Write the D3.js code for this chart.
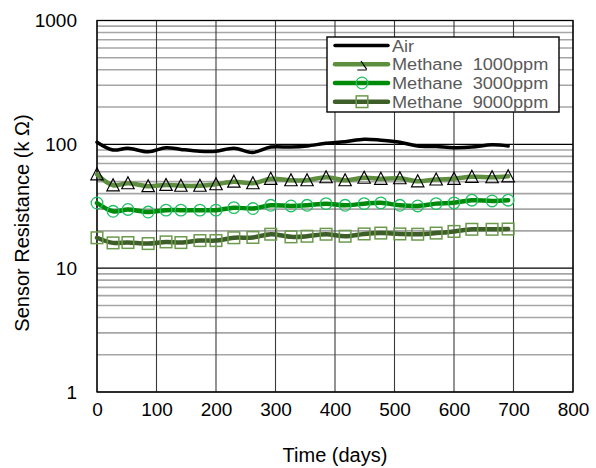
<!DOCTYPE html>
<html>
<head>
<meta charset="utf-8">
<script src="https://cdn.jsdelivr.net/npm/d3@7"></script>
<style>
  html, body { margin: 0; padding: 0; background: #fff; }
  svg { display: block; font-family: "Liberation Sans", Arial, sans-serif; }
</style>
</head>
<body>
<svg id="chart" width="596" height="468"></svg>
<script>
// Sensor resistance over time, log scale
const days   = [0, 27, 52, 86, 116, 141, 173, 200, 230, 262, 292, 326, 353, 385, 417, 449, 477, 509, 539, 570, 600, 630, 664, 691];
const air    = [104, 90, 93, 87, 94, 91, 88, 88, 93, 86, 95, 95, 97, 102, 105, 110, 108, 104, 97, 96, 94, 95, 99, 97];
const m1000  = [57.3, 46.7, 48.5, 45.9, 47, 46.3, 46.3, 47.6, 49.9, 48.5, 52.7, 51.3, 51.3, 54.2, 51.3, 53.7, 52.7, 53.2, 50.3, 52, 52.7, 54.7, 54.2, 55.2];
const m3000  = [33.6, 28.8, 29.8, 28.4, 29.4, 29.4, 29.4, 29.4, 30.8, 30.3, 32.2, 31.8, 32.2, 33.2, 32.2, 33.2, 33.7, 32.2, 31.8, 33.2, 33.7, 35.4, 34.9, 35.4];
const m9000  = [17.6, 16.0, 16.1, 15.8, 16.3, 16.1, 16.7, 16.7, 17.6, 17.7, 18.8, 17.9, 18.1, 18.8, 18.1, 18.9, 19.2, 18.9, 18.8, 19.2, 19.8, 20.6, 20.6, 20.7];

const seriesNames = ["Air", "Methane  1000ppm", "Methane  3000ppm", "Methane  9000ppm"];
const xTicks = [0, 100, 200, 300, 400, 500, 600, 700, 800];
const yTicks = [1, 10, 100, 1000];
const yTickLabels = ["1", "10", "100", "1000"];
const xTitle = "Time (days)";
const yTitle = "Sensor Resistance (k \u03A9)";

const svg = d3.select("#chart");
const L = 97, R = 573, T = 20.5, B = 392;

const x = d3.scaleLinear().domain([0, 800]).range([L, R]);
const y = d3.scaleLog().domain([1, 1000]).range([B, T]);

// minor horizontal grid (2..9 in each decade)
const minor = [];
for (let d = 1; d < 1000; d *= 10) for (let k = 2; k <= 9; k++) minor.push(d * k);
svg.append("g").selectAll("line").data(minor).join("line")
  .attr("x1", L).attr("x2", R)
  .attr("y1", d => y(d)).attr("y2", d => y(d))
  .attr("stroke", "#a6a6a6").attr("stroke-width", 1.6);

// major horizontal grid
svg.append("g").selectAll("line").data(yTicks).join("line")
  .attr("x1", L).attr("x2", R)
  .attr("y1", d => y(d)).attr("y2", d => y(d))
  .attr("stroke", "#000").attr("stroke-width", 1.2);

// vertical grid
svg.append("g").selectAll("line").data(xTicks).join("line")
  .attr("x1", d => x(d)).attr("x2", d => x(d))
  .attr("y1", T).attr("y2", B)
  .attr("stroke", "#3a3a3a").attr("stroke-width", 1.1);

// plot frame
svg.append("rect").attr("x", L).attr("y", T).attr("width", R - L).attr("height", B - T)
  .attr("fill", "none").attr("stroke", "#000").attr("stroke-width", 1.3);

// tick labels via d3 axes
const xAxis = d3.axisBottom(x).tickValues(xTicks).tickSize(0).tickPadding(11);
const gx = svg.append("g").attr("transform", `translate(0,${B})`).call(xAxis);
gx.select(".domain").remove();
gx.selectAll("text").attr("font-size", 19).attr("fill", "#000")
  .attr("font-family", "Liberation Sans, Arial, sans-serif");

const yAxis = d3.axisLeft(y).tickValues(yTicks).tickFormat((d, i) => yTickLabels[i]).tickSize(0).tickPadding(20);
const gy = svg.append("g").attr("transform", `translate(${L},0)`).call(yAxis);
gy.select(".domain").remove();
gy.selectAll("text").attr("font-size", 19).attr("fill", "#000")
  .attr("font-family", "Liberation Sans, Arial, sans-serif");

svg.append("text").attr("x", 335).attr("y", 462).attr("text-anchor", "middle")
  .attr("font-size", 20).attr("fill", "#000").text(xTitle);
svg.append("text").attr("transform", "translate(29,223) rotate(-90)").attr("text-anchor", "middle")
  .attr("font-size", 20).attr("fill", "#000").text(yTitle);

const line = d3.line().x(d => x(d[0])).y(d => y(d[1])).curve(d3.curveCatmullRom);
const zipped = vals => days.map((d, i) => [d, vals[i]]);

const styles = [
  { vals: air,   color: "#000000", width: 3.5, marker: null },
  { vals: m1000, color: "#5e8f3e", width: 4.5, marker: "tri", mcolor: "#000" },
  { vals: m3000, color: "#008a0a", width: 4.5, marker: "circle", mcolor: "#22c065" },
  { vals: m9000, color: "#3d5e28", width: 4.5, marker: "square", mcolor: "#6c9a4c" }
];

const triPath = "M0,-6.5 L6.2,5.5 L-6.2,5.5 Z";

function drawMarker(g, type, color, cx, cy) {
  if (type === "tri") {
    g.append("path").attr("d", triPath).attr("transform", `translate(${cx},${cy})`)
      .attr("fill", "none").attr("stroke", color).attr("stroke-width", 1.2);
  } else if (type === "circle") {
    g.append("circle").attr("cx", cx).attr("cy", cy).attr("r", 5.8)
      .attr("fill", "none").attr("stroke", color).attr("stroke-width", 1.3);
  } else if (type === "square") {
    g.append("rect").attr("x", cx - 5.8).attr("y", cy - 5.8).attr("width", 11.6).attr("height", 11.6)
      .attr("fill", "none").attr("stroke", color).attr("stroke-width", 1.5);
  }
}

styles.forEach(s => {
  const pts = zipped(s.vals);
  const g = svg.append("g");
  g.append("path").datum(pts).attr("d", line)
    .attr("fill", "none").attr("stroke", s.color).attr("stroke-width", s.width)
    .attr("stroke-linejoin", "round").attr("stroke-linecap", "round");
  if (s.marker) pts.forEach(p => drawMarker(g, s.marker, s.mcolor, x(p[0]), y(p[1])));
});

// legend
const lg = svg.append("g");
lg.append("rect").attr("x", 327).attr("y", 37).attr("width", 232).attr("height", 75)
  .attr("fill", "#fff").attr("stroke", "#000").attr("stroke-width", 1.4);
const rowY = [45.5, 64.3, 83, 101.7];
styles.forEach((s, i) => {
  lg.append("line").attr("x1", 335).attr("x2", 388).attr("y1", rowY[i]).attr("y2", rowY[i])
    .attr("stroke", s.color).attr("stroke-width", s.width).attr("stroke-linecap", "round");
  if (s.marker === "tri") {
    lg.append("path").attr("d", "M-1,-3.3 L4.7,5 M-4.7,5.7 L4.7,5.7")
      .attr("transform", `translate(362,${rowY[i]})`)
      .attr("fill", "none").attr("stroke", "#000").attr("stroke-width", 1.2);
  } else if (s.marker) {
    drawMarker(lg, s.marker, s.mcolor, 362, rowY[i]);
  }
  lg.append("text").attr("transform", `translate(392,${rowY[i] + 6})scale(1.1,1)`)
    .attr("font-size", 16.5).attr("fill", "#595959")
    .style("white-space", "pre").text(seriesNames[i]);
});
</script>
</body>
</html>
